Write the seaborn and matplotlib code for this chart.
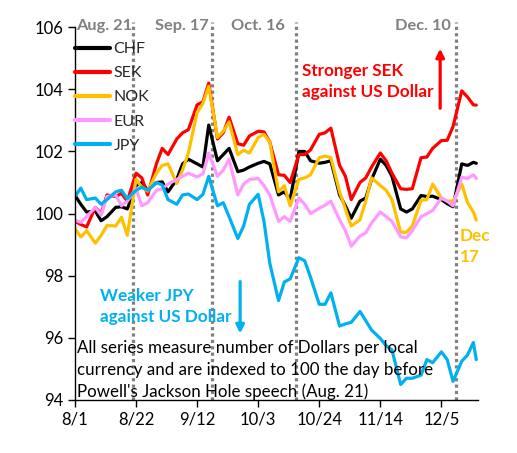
import matplotlib
matplotlib.use("Agg")
import matplotlib.pyplot as plt
import matplotlib.dates as mdates
import pandas as pd
import seaborn as sns

# ---------------- data ----------------
dates = ["2022-08-01", "2022-08-03", "2022-08-05", "2022-08-08", "2022-08-10", "2022-08-12",
         "2022-08-15", "2022-08-17", "2022-08-19", "2022-08-22", "2022-08-24", "2022-08-26",
         "2022-08-29", "2022-08-31", "2022-09-02", "2022-09-05", "2022-09-07", "2022-09-09",
         "2022-09-12", "2022-09-14", "2022-09-16", "2022-09-19", "2022-09-21", "2022-09-23",
         "2022-09-26", "2022-09-28", "2022-09-30", "2022-10-03", "2022-10-05", "2022-10-07",
         "2022-10-10", "2022-10-12", "2022-10-14", "2022-10-17", "2022-10-19", "2022-10-21",
         "2022-10-24", "2022-10-26", "2022-10-28", "2022-10-31", "2022-11-02", "2022-11-04",
         "2022-11-07", "2022-11-09", "2022-11-11", "2022-11-14", "2022-11-16", "2022-11-18",
         "2022-11-21", "2022-11-23", "2022-11-25", "2022-11-28", "2022-11-30", "2022-12-02",
         "2022-12-05", "2022-12-07", "2022-12-09", "2022-12-12", "2022-12-14", "2022-12-16",
         "2022-12-17"]

chf = [100.59, 100.3, 100.05, 100.08, 99.77, 99.9, 100.2, 100.22, 100.15,
       100.9, 101.0, 100.75, 101.0, 101.02, 100.7, 101.1, 101.6, 101.75,
       101.6, 101.5, 102.85, 101.7, 101.9, 102.1, 101.35, 101.4, 101.5,
       101.62, 101.68, 101.6, 100.6, 100.7, 100.45, 102.0, 102.0, 101.7,
       101.62, 101.65, 101.7, 100.6, 100.25, 99.85, 100.4, 100.5, 101.1,
       101.75, 101.55, 101.2, 100.15, 100.05, 100.15, 100.58, 100.55, 100.56,
       100.45, 100.32, 100.22, 101.6, 101.55, 101.65, 101.62]

sek = [99.75, 99.65, 99.57, 100.2, 100.0, 100.6, 100.55, 100.65, 100.4,
       101.3, 101.15, 100.6, 101.6, 102.1, 101.9, 102.4, 102.6, 102.7,
       103.5, 103.6, 104.2, 102.4, 102.6, 103.1, 102.25, 102.2, 102.5,
       102.65, 102.63, 102.3, 101.25, 101.23, 101.0, 101.9, 101.9, 102.05,
       102.55, 102.6, 102.75, 101.55, 101.2, 100.45, 101.0, 101.15, 101.5,
       101.95, 101.7, 101.3, 100.8, 100.78, 100.8, 101.8, 101.82, 102.1,
       102.35, 102.36, 102.8, 103.95, 103.75, 103.5, 103.49]

nok = [99.52, 99.25, 99.45, 99.05, 99.3, 99.62, 99.6, 99.88, 99.3,
       101.1, 100.85, 100.72, 101.3, 101.55, 101.6, 100.97, 101.4, 101.95,
       103.25, 103.55, 104.1, 102.45, 102.65, 102.95, 101.9, 102.04, 101.95,
       102.45, 102.55, 102.3, 100.7, 100.9, 100.25, 101.1, 101.15, 101.25,
       101.8, 101.85, 101.8, 100.7, 100.15, 99.6, 99.8, 100.4, 101.15,
       100.9, 100.75, 100.45, 99.4, 99.4, 99.6, 100.43, 100.45, 100.95,
       100.5, 100.4, 100.4, 100.95, 100.35, 100.05, 99.79]

eur = [99.79, 99.72, 99.9, 100.2, 99.95, 100.55, 100.6, 100.25, 100.4,
       100.8, 100.25, 100.35, 100.75, 100.8, 100.95, 101.1, 101.2, 101.3,
       101.18, 101.28, 101.95, 101.2, 101.4, 101.75, 100.6, 100.95, 101.1,
       101.13, 100.9, 100.6, 99.75, 99.9, 99.75, 100.5, 100.3, 100.0,
       100.17, 100.27, 100.4, 99.8, 99.45, 98.95, 99.28, 99.38, 99.7,
       100.05, 99.9, 99.75, 99.25, 99.22, 99.45, 99.9, 100.0, 100.1,
       100.5, 100.4, 100.25, 101.17, 101.13, 101.25, 101.13]

jpy = [100.55, 100.82, 100.45, 100.5, 100.3, 100.45, 100.7, 100.75, 100.48,
       100.75, 100.85, 100.75, 101.0, 100.92, 100.45, 100.3, 100.6, 100.63,
       100.45, 100.62, 101.2, 100.25, 100.35, 99.9, 99.2, 99.6, 100.3,
       100.62, 99.75, 98.4, 97.2, 97.8, 97.9, 98.58, 98.48, 97.95,
       97.08, 97.08, 97.45, 96.38, 96.45, 96.5, 96.85, 96.55, 96.25,
       95.98, 95.75, 95.61, 94.5, 94.7, 94.7, 94.8, 95.3, 95.2,
       95.55, 95.3, 94.6, 95.25, 95.45, 95.85, 95.3]

currencies = ["CHF", "SEK", "NOK", "EUR", "JPY"]
colors = ["#000000", "#FF0000", "#FFC000", "#FF99FF", "#00B0F0"]

event_dates = ["2022-08-21", "2022-09-17", "2022-10-16", "2022-12-10"]
event_labels = ["Aug. 21", "Sep. 17", "Oct. 16", "Dec. 10"]
event_label_x = ["2022-08-20 14:00", "2022-09-16 02:00", "2022-10-12 08:00", "2022-12-08 10:00"]

tick_dates = ["2022-08-01", "2022-08-22", "2022-09-12", "2022-10-03",
              "2022-10-24", "2022-11-14", "2022-12-05"]

# ---------------- build long table ----------------
df = pd.DataFrame({"date": pd.to_datetime(dates), "CHF": chf, "SEK": sek,
                   "NOK": nok, "EUR": eur, "JPY": jpy})
df = df.melt(id_vars="date", var_name="currency", value_name="index")

# ---------------- plot ----------------
sns.set_style("ticks")
plt.rcParams["font.family"] = ["Lato", "DejaVu Sans"]

fig = plt.figure(figsize=(5.17, 4.53), dpi=100)
ax = fig.add_axes([0.145, 0.117, 0.78, 0.823])

sns.lineplot(data=df, x="date", y="index", hue="currency", hue_order=currencies,
             palette=colors, linewidth=2.3, ax=ax)

ax.set_ylim(94, 106)
ax.set_yticks(range(94, 107, 2))
ax.set_xlim(pd.Timestamp("2022-08-01"), pd.Timestamp("2022-12-17 16:00"))
ax.set_xticks(pd.to_datetime(tick_dates))
ax.xaxis.set_major_formatter(mdates.DateFormatter("%-m/%-d"))
ax.set_xlabel("")
ax.set_ylabel("")
sns.despine(ax=ax)
ax.tick_params(direction="out", length=5, width=1, labelsize=12, colors="black")
for s in ["left", "bottom"]:
    ax.spines[s].set_color("black")
    ax.spines[s].set_linewidth(1)

# event lines and labels
for d, lab, lx in zip(event_dates, event_labels, event_label_x):
    ax.axvline(pd.Timestamp(d), ymin=0, ymax=1.015, color="#808080", lw=2.3,
               ls=(0, (1, 1)), clip_on=False, zorder=1)
    ax.text(pd.Timestamp(lx), 106.05, lab, ha="right", va="center",
            color="#808080", fontsize=11.8, fontweight="bold")

# legend
leg = ax.legend(loc="upper left", bbox_to_anchor=(0.0, 0.96), frameon=False,
                fontsize=11.5, handlelength=2.2, handletextpad=0.2,
                labelspacing=0.62, borderpad=0, borderaxespad=0)
for line in leg.get_lines():
    line.set_linewidth(3)

# annotations
ax.text(pd.Timestamp("2022-10-18"), 104.24, "Stronger SEK\nagainst US Dollar",
        color="#FF0000", fontsize=12.3, fontweight="bold", ha="left", va="center",
        linespacing=1.4)
ax.annotate("", xy=(pd.Timestamp("2022-12-04 14:00"), 105.4),
            xytext=(pd.Timestamp("2022-12-04 14:00"), 103.3),
            arrowprops=dict(arrowstyle="-|>", color="#FF0000", lw=2.3,
                            mutation_scale=12))

ax.text(pd.Timestamp("2022-08-09 14:00"), 97.0, "Weaker JPY\nagainst US Dollar",
        color="#00B0F0", fontsize=12.3, fontweight="bold", ha="left", va="center",
        linespacing=1.4)
ax.annotate("", xy=(pd.Timestamp("2022-09-26 19:00"), 96.05),
            xytext=(pd.Timestamp("2022-09-26 19:00"), 97.9),
            arrowprops=dict(arrowstyle="-|>", color="#00B0F0", lw=2.3,
                            mutation_scale=12))

ax.text(pd.Timestamp("2022-12-11 05:00"), 98.94, "Dec\n17", color="#FFC000",
        fontsize=12.3, fontweight="bold", ha="left", va="center", linespacing=1.4)

ax.text(pd.Timestamp("2022-08-01 17:00"), 94.96,
        "All series measure number of Dollars per local\n"
        "currency and are indexed to 100 the day before\n"
        "Powell's Jackson Hole speech (Aug. 21)",
        color="black", fontsize=12.2, ha="left", va="center", linespacing=1.44)

fig.savefig("out.png", dpi=100)
